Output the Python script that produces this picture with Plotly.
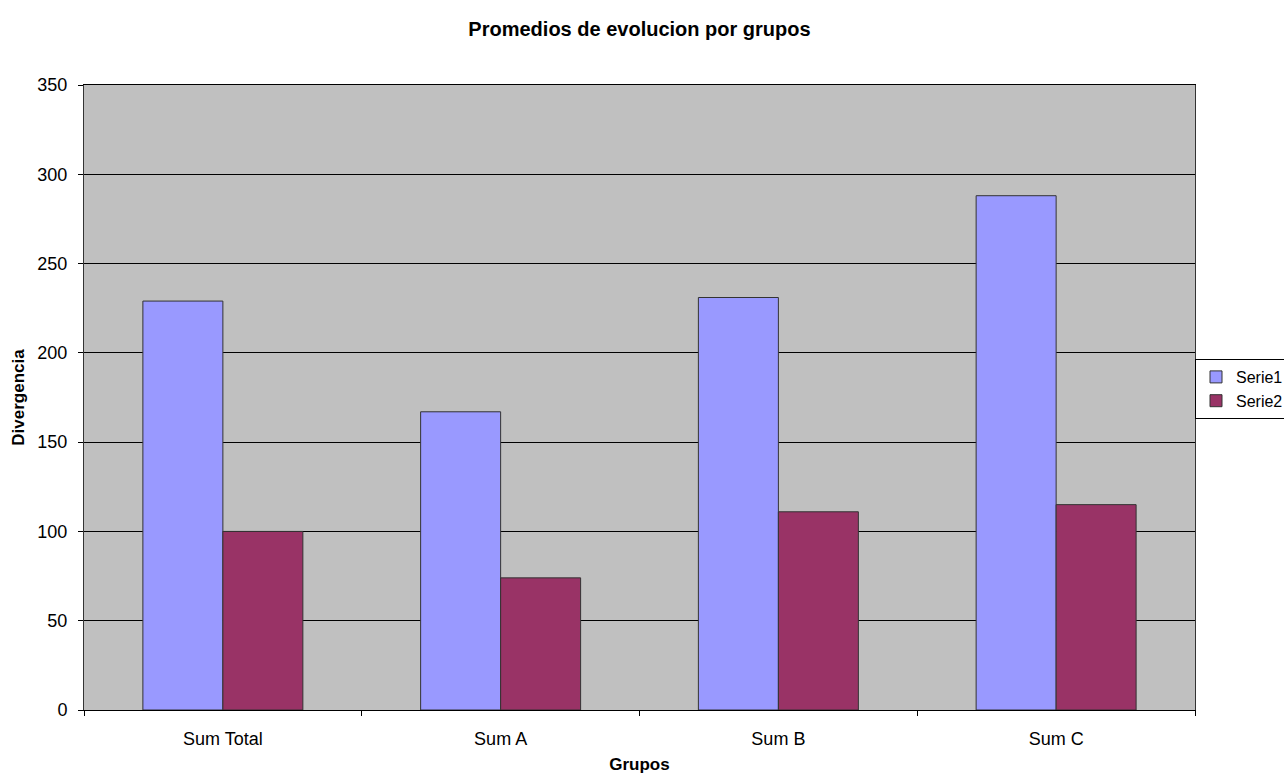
import plotly.graph_objects as go

categories = ["Sum Total", "Sum A", "Sum B", "Sum C"]
serie1 = [229, 167, 231, 288]
serie2 = [100, 74, 111, 115]

fig = go.Figure()
fig.add_trace(go.Bar(x=categories, y=serie1, name="Serie1",
                     marker=dict(color="#9999FF", line=dict(color="#333333", width=1))))
fig.add_trace(go.Bar(x=categories, y=serie2, name="Serie2",
                     marker=dict(color="#993366", line=dict(color="#333333", width=1))))

fig.update_layout(
    width=1284, height=777,
    margin=dict(l=84, r=89, t=85, b=67, autoexpand=False),
    paper_bgcolor="white", plot_bgcolor="#C0C0C0",
    font=dict(family="Liberation Sans, Arial, sans-serif", size=18, color="black"),
    title=dict(text="<b>Promedios de evolucion por grupos</b>", x=0.5, xanchor="center",
               xref="paper", y=1 - 29/777, yanchor="middle", font=dict(size=20)),
    barmode="group", bargap=0.424, bargroupgap=0,
    showlegend=True,
    legend=dict(xref="container", yref="container", x=1195/1284, xanchor="left",
                y=(777-389)/777, yanchor="middle",
                bgcolor="white", bordercolor="black", borderwidth=1,
                font=dict(size=16), tracegroupgap=0, itemwidth=30),
    xaxis=dict(title=dict(text="<b>Grupos</b>", font=dict(size=17), standoff=10),
               tickson="boundaries", ticks="outside", ticklen=5, tickcolor="black",
               ticklabelstandoff=12,
               showline=True, linecolor="black", linewidth=1, mirror=True,
               showgrid=False),
    yaxis=dict(title=dict(text="<b>Divergencia</b>", font=dict(size=17), standoff=8),
               range=[0, 350], dtick=50, ticks="outside", ticklen=5, tickcolor="black",
               ticklabelstandoff=7,
               showline=True, linecolor="#333333", linewidth=1, mirror=True,
               showgrid=True, gridcolor="black", gridwidth=1, zeroline=False),
)

fig.write_html("out.html")
